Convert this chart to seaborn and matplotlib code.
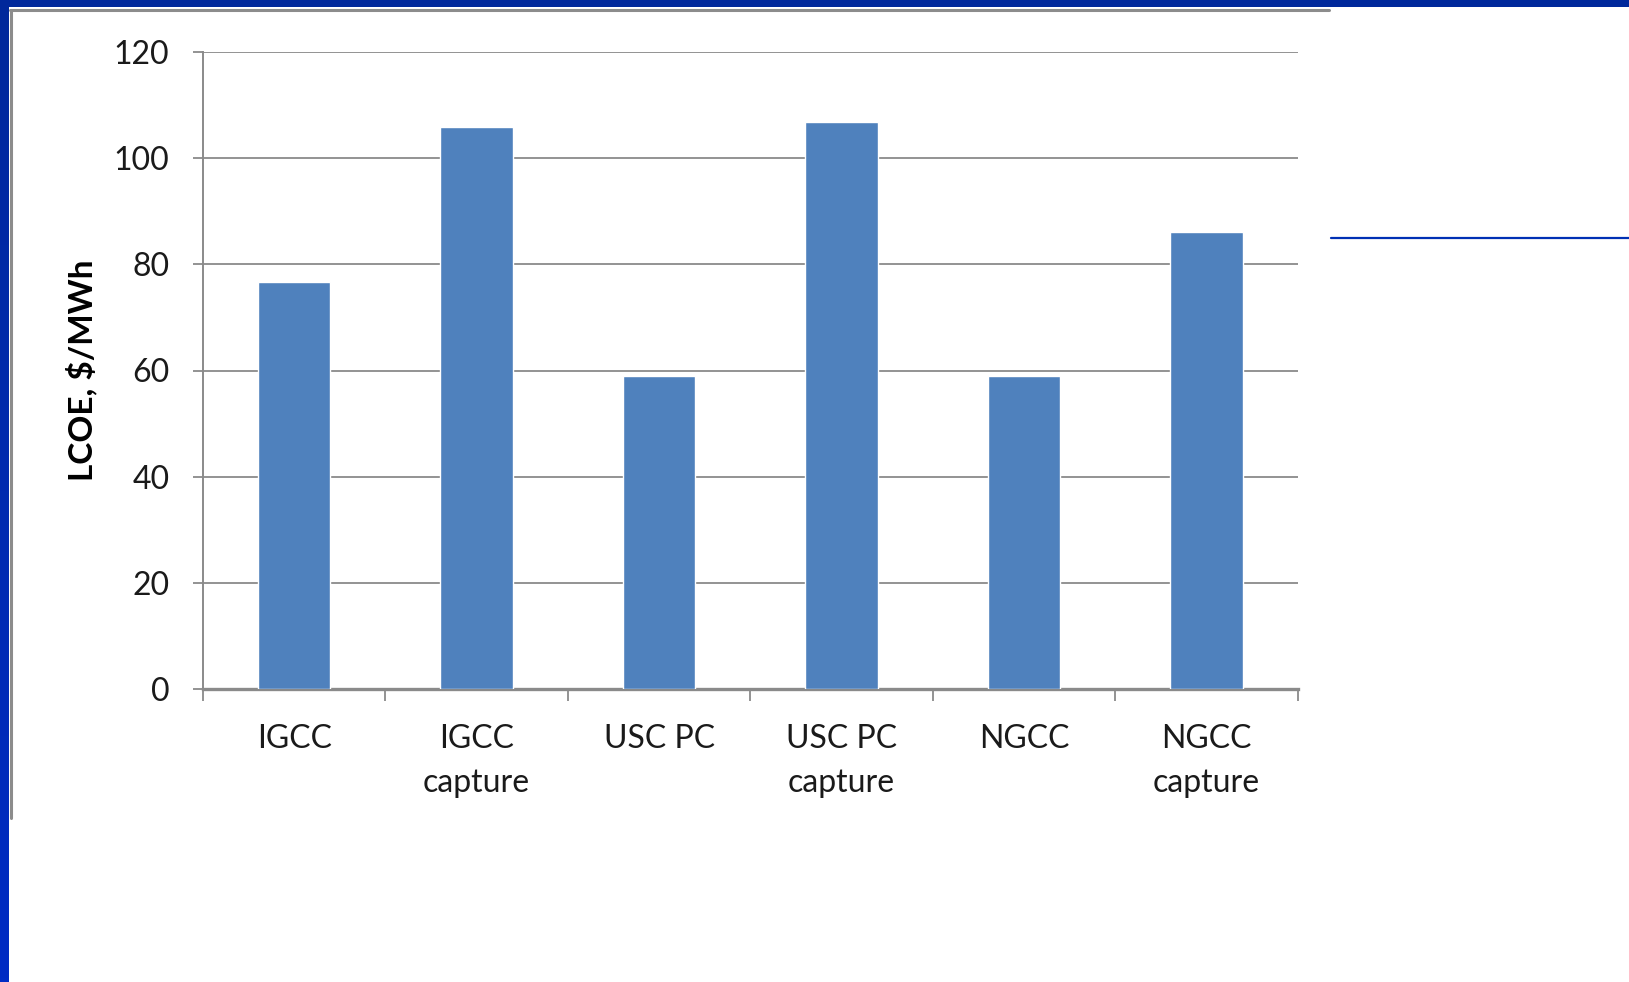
import numpy as np
import pandas as pd
import matplotlib
matplotlib.use("Agg")
import matplotlib.pyplot as plt
from matplotlib.lines import Line2D
from matplotlib.patches import Rectangle
from matplotlib.colors import LinearSegmentedColormap
import seaborn as sns

categories = ["IGCC", "IGCC\ncapture", "USC PC", "USC PC\ncapture", "NGCC", "NGCC\ncapture"]
lcoe = [76.6, 105.9, 59.0, 106.8, 59.0, 86.1]
y_ticks = [0, 20, 40, 60, 80, 100, 120]
y_label = "LCOE, $/MWh"

sns.set_theme(style="white")
plt.rcParams['font.family'] = ['Lato', 'DejaVu Sans']

W, H = 1629, 982
fig = plt.figure(figsize=(W / 100, H / 100), dpi=100)
fig.patch.set_facecolor("white")

def fx(px):
    return px / W

def fy(py):
    return 1 - py / H

# decorations: slide frame
fig.add_artist(Rectangle((0, fy(7)), 1, 7 / H, transform=fig.transFigure,
                         facecolor="#00289B", edgecolor="none", zorder=5))
gax = fig.add_axes([0, 0, fx(9), 1])
grad = np.linspace(0, 1, 256).reshape(-1, 1)
cm = LinearSegmentedColormap.from_list("b", ["#00289B", "#002CC4"])
gax.imshow(grad, aspect="auto", cmap=cm, extent=[0, 1, 0, 1], origin="upper")
gax.set_axis_off()
# chart box border
fig.add_artist(Line2D([fx(10), fx(1329)], [fy(10), fy(10)], transform=fig.transFigure,
                      color="#8c8c8c", lw=2.2, zorder=6))
fig.add_artist(Line2D([fx(11), fx(11)], [fy(10), fy(818)], transform=fig.transFigure,
                      color="#8c8c8c", lw=2.2, zorder=6))
# right blue line
fig.add_artist(Line2D([fx(1331), 1], [fy(238), fy(238)], transform=fig.transFigure,
                      color="#0030B4", lw=1.6, zorder=6))

left, right = 203.0, 1297.6
top, bottom = 52.3, 688.7
ax = fig.add_axes([fx(left), fy(bottom), fx(right - left), (bottom - top) / H])

df = pd.DataFrame({"cat": categories, "val": lcoe})
sns.barplot(data=df, x="cat", y="val", color="#4F81BD", width=0.397, saturation=1,
            ax=ax, zorder=3)

ax.set_xlim(-0.5, len(categories) - 0.5)
ax.set_ylim(0, 120)
ax.set_yticks(y_ticks)
ax.yaxis.grid(True, color="#8a8a8a", lw=1.3, zorder=0)
ax.set_axisbelow(True)

for s in ["top", "right"]:
    ax.spines[s].set_visible(False)
ax.spines["left"].set_color("#8a8a8a")
ax.spines["left"].set_linewidth(1.4)
ax.spines["bottom"].set_color("#8a8a8a")
ax.spines["bottom"].set_linewidth(2.4)

ax.set_xticks(np.arange(-0.5, len(categories)), minor=True)
ax.tick_params(axis="x", which="minor", direction="out", length=8.5, width=1.3,
               color="#8a8a8a", bottom=True)
ax.tick_params(axis="x", which="major", length=0, pad=25.5, labelsize=23,
               labelcolor="#1a1a1a")
ax.tick_params(axis="y", which="major", direction="out", length=7.2, width=1.3,
               color="#8a8a8a", left=True, pad=17, labelsize=23, labelcolor="#1a1a1a")
for t in ax.get_xticklabels():
    t.set_linespacing(1.57)

ax.set_xlabel("")
ax.set_ylabel(y_label, fontsize=24, fontweight="bold", color="#000000")
ax.yaxis.set_label_coords((97 - left) / (right - left), 0.5)

fig.savefig("out.png", dpi=100, facecolor="white")
